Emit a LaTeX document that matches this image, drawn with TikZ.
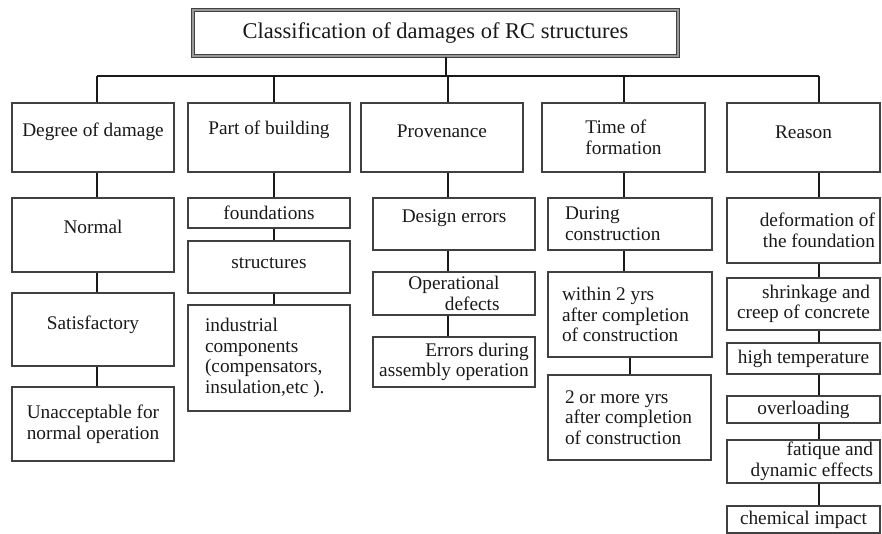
\documentclass[tikz,border=0pt]{standalone}
\usepackage{fontspec}
\setmainfont{Liberation Serif}
\newcommand\boxfont{\fontsize{19.3}{20.7}\selectfont}
\newcommand\headfont{\fontsize{22.5}{26}\selectfont}
\begin{document}
\begin{tikzpicture}[x=1pt, y=-1pt,
    box/.style={draw=black!75, line width=1.2pt, inner sep=2pt, align=center,
      text=black!90, font=\boxfont},
    link/.style={draw=black!90, line width=2.6pt},
    thinlink/.style={draw=black!90, line width=1.7pt}]
  \useasboundingbox (0,0) rectangle (882,534);

  % title
  \node[box, line width=1.5pt, double=black!40, double distance=1.1pt,
    minimum width=485, minimum height=46, font=\headfont] (title) at (435.5,33)
    {Classification of damages of RC structures};

  % columns
  \coordinate (c1) at (97,0);
  \coordinate (c2) at (274,0);
  \coordinate (c3) at (448,0);
  \coordinate (c4) at (624,0);
  \coordinate (c5) at (819,0);
  \coordinate (bar) at (446,76);

  \node[box, minimum width=162, minimum height=69, text depth=15] (deg) at (93,137.5) {Degree of damage};
  \node[box, minimum width=162, minimum height=74, text depth=16] (normal) at (93,235) {Normal};
  \node[box, minimum width=162, minimum height=73, text depth=14] (satis) at (93,329.5) {Satisfactory};
  \node[box, minimum width=162, minimum height=74, align=left] (unacc) at (93,424) {Unacceptable for\\normal operation};

  \node[box, minimum width=162, minimum height=69, text depth=19] (part) at (269,137.5) {Part of building};
  \node[box, minimum width=162, minimum height=30] (found) at (269,213) {foundations};
  \node[box, minimum width=162, minimum height=52, text depth=8] (struct) at (269,267) {structures};
  \node[box, minimum height=106, inner xsep=17pt, text width=128, align=flush left] (indust) at (269,358)
    {industrial\\components\\(compensators,\\insulation,etc ).};

  \node[box, minimum width=162, minimum height=69, text depth=13] (prov) at (442,137.5) {Provenance};
  \node[box, minimum width=162, minimum height=52, text depth=16] (design) at (454,224) {Design errors};
  \node[box, minimum width=162, minimum height=43, align=right] (oper) at (454,293.5) {Operational\\defects};
  \node[box, minimum width=162, minimum height=50, align=right] (errors) at (454,362) {Errors during\\assembly operation};

  \node[box, minimum width=163, minimum height=69, align=left] (time) at (623.5,137.5) {Time of\\formation};
  \node[box, minimum height=52, inner xsep=17pt, text width=130, align=flush left] (during) at (630,224) {During\\construction};
  \node[box, minimum height=85, inner xsep=14pt, text width=136, align=flush left] (within) at (630,314.5) {within 2 yrs\\after completion\\of construction};
  \node[box, minimum height=85, inner xsep=17pt, text width=129, align=flush left] (more) at (629.5,417.5) {2 or more yrs\\after completion\\of construction};

  \node[box, minimum width=153, minimum height=69, text depth=11] (reason) at (803.5,137.5) {Reason};
  \node[box, minimum height=65, inner xsep=5pt, text width=143, align=flush right] (deform) at (803.5,230.5) {deformation of\\the foundation};
  \node[box, minimum width=153, minimum height=52, align=right] (shrink) at (803.5,304) {shrinkage and\\creep of concrete};
  \node[box, minimum width=153, minimum height=31] (hight) at (803.5,358.5) {high temperature};
  \node[box, minimum width=153, minimum height=27] (overl) at (803.5,409.5) {overloading};
  \node[box, minimum height=43, inner xsep=7pt, text width=139, align=flush right] (fatig) at (803.5,461.5) {fatique and\\dynamic effects};
  \node[box, minimum width=153, minimum height=27] (chem) at (803.5,519.5) {chemical impact};

  % tree
  \draw[thinlink] (title.south -| bar) -- (bar);
  \draw[link] (c1 |- bar) -- (c5 |- bar);
  \draw[thinlink] (deg.north -| c1) -- (c1 |- bar);
  \draw[link] (part.north -| c2) -- (c2 |- bar);
  \draw[thinlink] (prov.north -| c3) -- (c3 |- bar);
  \draw[link] (time.north -| c4) -- (c4 |- bar);
  \draw[link] (reason.north -| c5) -- (c5 |- bar);

  % links in the columns
  \draw[link] (deg.south -| c1) -- (normal.north -| c1);
  \draw[link] (normal.south -| c1) -- (satis.north -| c1);
  \draw[link] (satis.south -| c1) -- (unacc.north -| c1);

  \draw[link] (part.south -| c2) -- (found.north -| c2);
  \draw[link] (found.south -| c2) -- (struct.north -| c2);
  \draw[link] (struct.south -| c2) -- (indust.north -| c2);

  \draw[thinlink] (prov.south -| c3) -- (design.north -| c3);
  \draw[thinlink] (design.south -| c3) -- (oper.north -| c3);
  \draw[thinlink] (oper.south -| c3) -- (errors.north -| c3);

  \draw[link] (time.south -| c4) -- (during.north -| c4);
  \draw[link] (during.south -| c4) -- (within.north -| c4);
  \draw[thinlink] (within.south) -- (more.north -| within.south);

  \draw[link] (reason.south -| c5) -- (deform.north -| c5);
  \draw[link] (deform.south -| c5) -- (shrink.north -| c5);
  \draw[link] (shrink.south -| c5) -- (hight.north -| c5);
  \draw[thinlink] (hight.south -| c5) -- (overl.north -| c5);
  \draw[thinlink] (overl.south -| c5) -- (fatig.north -| c5);
  \draw[link] (fatig.south -| c5) -- (chem.north -| c5);
\end{tikzpicture}
\end{document}
